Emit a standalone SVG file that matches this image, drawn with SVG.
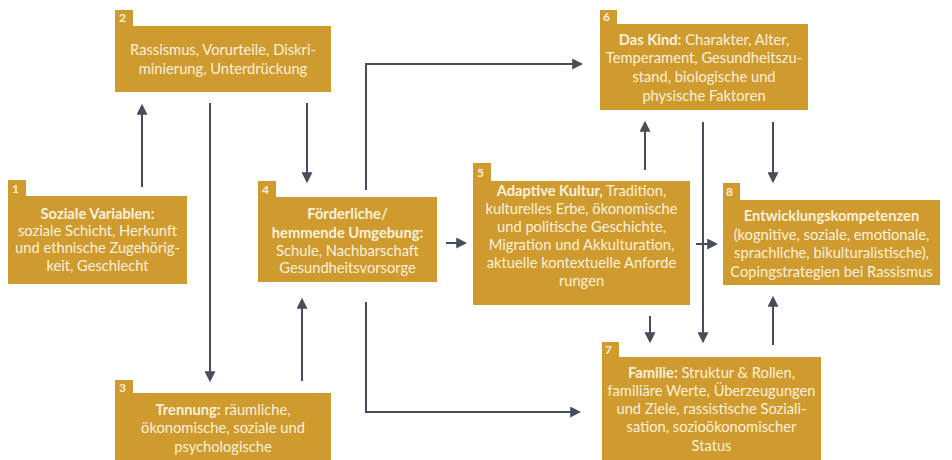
<svg xmlns="http://www.w3.org/2000/svg" width="952" height="460" viewBox="0 0 952 460">
<style>
.box{fill:#CF9A2E}
.t{font-family:Lato,"Open Sans",sans-serif;font-size:14.7px;fill:#FBF1DA;text-anchor:middle}
.b{font-weight:bold}
.n{font-family:Lato,sans-serif;font-size:12px;font-weight:bold;fill:#FBF1DA}
.c{fill:none;stroke:#474d5a;stroke-width:2}
</style>
<defs>
<marker id="ah" viewBox="0 0 10 10" refX="8" refY="5" markerWidth="5.5" markerHeight="5.5" orient="auto" markerUnits="strokeWidth">
<path d="M0,0 L10,5 L0,10 z" fill="#474d5a"/>
</marker>
</defs>
<rect width="952" height="460" fill="#fff"/>
<g id="connectors">
<line class="c" x1="142" y1="187" x2="142" y2="106" marker-end="url(#ah)"/>
<line class="c" x1="210" y1="103" x2="210" y2="380" marker-end="url(#ah)"/>
<line class="c" x1="307" y1="103" x2="307" y2="181" marker-end="url(#ah)"/>
<line class="c" x1="302" y1="381" x2="302" y2="300" marker-end="url(#ah)"/>
<polyline class="c" points="366,190 366,64 581,64" marker-end="url(#ah)"/>
<polyline class="c" points="366,302 366,412 579,412" marker-end="url(#ah)"/>
<line class="c" x1="446" y1="243" x2="465" y2="243" marker-end="url(#ah)"/>
<line class="c" x1="645" y1="170" x2="645" y2="123" marker-end="url(#ah)"/>
<line class="c" x1="703" y1="122" x2="703" y2="341" marker-end="url(#ah)"/>
<line class="c" x1="773" y1="122" x2="773" y2="181" marker-end="url(#ah)"/>
<line class="c" x1="696" y1="244" x2="716" y2="244" marker-end="url(#ah)"/>
<line class="c" x1="650" y1="316" x2="650" y2="341" marker-end="url(#ah)"/>
<line class="c" x1="773" y1="345" x2="773" y2="298" marker-end="url(#ah)"/>
</g>
<g id="node1">
<rect class="box" x="8" y="180" width="18" height="18"/>
<rect class="box" x="8" y="196" width="179" height="88"/>
<text class="n" x="12" y="193">1</text>
<text class="t"><tspan class="b" x="97.5" y="219">Soziale Variablen:</tspan><tspan x="97.5" y="236">soziale Schicht, Herkunft</tspan><tspan x="97.5" y="253">und ethnische Zugehörig-</tspan><tspan x="97.5" y="271">keit, Geschlecht</tspan></text>
</g>
<g id="node2">
<rect class="box" x="115" y="10" width="18" height="18"/>
<rect class="box" x="115" y="26" width="216" height="66"/>
<text class="n" x="119" y="22">2</text>
<text class="t"><tspan x="223" y="55">Rassismus, Vorurteile, Diskri-</tspan><tspan x="223" y="74">minierung, Unterdrückung</tspan></text>
</g>
<g id="node3">
<rect class="box" x="115" y="380" width="18" height="18"/>
<rect class="box" x="115" y="393" width="216" height="67"/>
<text class="n" x="119" y="392">3</text>
<text class="t"><tspan x="223" y="415"><tspan class="b">Trennung:</tspan> räumliche,</tspan><tspan x="223" y="433">ökonomische, soziale und</tspan><tspan x="223" y="452">psychologische</tspan></text>
</g>
<g id="node4">
<rect class="box" x="258" y="181" width="18" height="18"/>
<rect class="box" x="258" y="197" width="179" height="85"/>
<text class="n" x="262" y="194">4</text>
<text class="t"><tspan class="b" x="347.5" y="219">Förderliche/</tspan><tspan class="b" x="347.5" y="238">hemmende Umgebung:</tspan><tspan x="347.5" y="256">Schule, Nachbarschaft</tspan><tspan x="347.5" y="273">Gesundheitsvorsorge</tspan></text>
</g>
<g id="node5">
<rect class="box" x="473" y="163" width="18" height="20"/>
<rect class="box" x="473" y="181" width="217" height="124"/>
<text class="n" x="477" y="177">5</text>
<text class="t"><tspan x="581.5" y="196"><tspan class="b">Adaptive Kultur,</tspan> Tradition,</tspan><tspan x="581.5" y="214">kulturelles Erbe, ökonomische</tspan><tspan x="581.5" y="232">und politische Geschichte,</tspan><tspan x="581.5" y="250">Migration und Akkulturation,</tspan><tspan x="581.5" y="268">aktuelle kontextuelle Anforde</tspan><tspan x="581.5" y="286">rungen</tspan></text>
</g>
<g id="node6">
<rect class="box" x="600" y="10" width="17" height="16"/>
<rect class="box" x="600" y="24" width="208" height="86"/>
<text class="n" x="603" y="21">6</text>
<text class="t"><tspan x="704" y="45"><tspan class="b">Das Kind:</tspan> Charakter, Alter,</tspan><tspan x="704" y="63">Temperament, Gesundheitszu-</tspan><tspan x="704" y="82">stand, biologische und</tspan><tspan x="704" y="101">physische Faktoren</tspan></text>
</g>
<g id="node7">
<rect class="box" x="602" y="342" width="17" height="17"/>
<rect class="box" x="602" y="357" width="219" height="103"/>
<text class="n" x="605" y="354">7</text>
<text class="t"><tspan x="711.5" y="378"><tspan class="b">Familie:</tspan> Struktur &amp; Rollen,</tspan><tspan x="711.5" y="396">familiäre Werte, Überzeugungen</tspan><tspan x="711.5" y="414">und Ziele, rassistische Soziali-</tspan><tspan x="711.5" y="432">sation, sozioökonomischer</tspan><tspan x="711.5" y="451">Status</tspan></text>
</g>
<g id="node8">
<rect class="box" x="723" y="183" width="17" height="19"/>
<rect class="box" x="723" y="200" width="217" height="85"/>
<text class="n" x="726" y="196">8</text>
<text class="t"><tspan class="b" x="831.5" y="221">Entwicklungskompetenzen</tspan><tspan x="831.5" y="240">(kognitive, soziale, emotionale,</tspan><tspan x="831.5" y="258">sprachliche, bikulturalistische),</tspan><tspan x="831.5" y="277">Copingstrategien bei Rassismus</tspan></text>
</g>
</svg>
